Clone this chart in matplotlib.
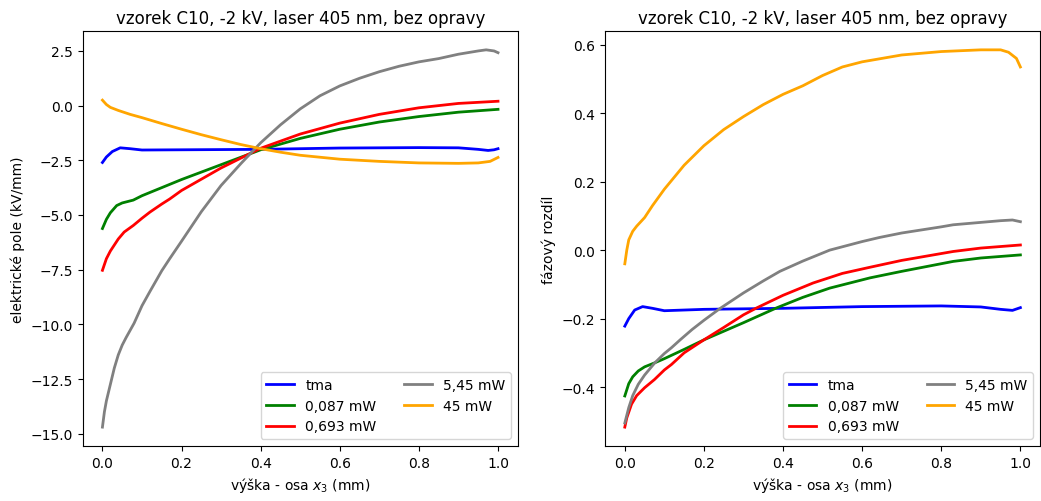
import matplotlib
matplotlib.use("Agg")
import matplotlib.pyplot as plt

# ---- data: left panel (electric field, kV/mm) ----
labels = ["tma", "0,087 mW", "0,693 mW", "5,45 mW", "45 mW"]
colors = ["blue", "green", "red", "gray", "orange"]

e_tma_x = [0, 0.01, 0.025, 0.045, 0.07, 0.1, 0.2, 0.4, 0.6, 0.8, 0.9, 0.95, 0.975, 0.99, 1.0]
e_tma_y = [-2.6, -2.35, -2.1, -1.93, -1.97, -2.03, -2.02, -2.0, -1.94, -1.92, -1.93, -2.0, -2.05, -2.02, -1.97]

e_g_x = [0, 0.01, 0.02, 0.036, 0.05, 0.078, 0.1, 0.15, 0.2, 0.3, 0.4, 0.5, 0.6, 0.7, 0.8, 0.9, 1.0]
e_g_y = [-5.62, -5.2, -4.9, -4.57, -4.45, -4.32, -4.12, -3.75, -3.38, -2.7, -2.02, -1.5, -1.08, -0.75, -0.5, -0.3, -0.17]

e_r_x = [0, 0.01, 0.02, 0.04, 0.055, 0.078, 0.1, 0.12, 0.15, 0.17, 0.2, 0.3, 0.4, 0.5, 0.6, 0.7, 0.8, 0.9, 1.0]
e_r_y = [-7.53, -7.0, -6.65, -6.1, -5.78, -5.48, -5.15, -4.87, -4.5, -4.27, -3.88, -2.85, -1.95, -1.3, -0.8, -0.4, -0.1, 0.1, 0.2]

e_gr_x = [0, 0.005, 0.01, 0.02, 0.03, 0.04, 0.05, 0.06, 0.08, 0.1, 0.12, 0.15, 0.17, 0.2, 0.25, 0.3, 0.35, 0.4, 0.45,
          0.5, 0.55, 0.6, 0.65, 0.7, 0.75, 0.8, 0.85, 0.9, 0.95, 0.97, 0.99, 1.0]
e_gr_y = [-14.7, -14.0, -13.5, -12.75, -12.0, -11.4, -10.95, -10.6, -9.95, -9.15, -8.5, -7.55, -7.0, -6.2, -4.85,
          -3.65, -2.65, -1.7, -0.88, -0.15, 0.45, 0.9, 1.25, 1.55, 1.8, 2.0, 2.15, 2.35, 2.5, 2.55, 2.5, 2.42]

e_o_x = [0, 0.01, 0.02, 0.04, 0.07, 0.1, 0.15, 0.2, 0.25, 0.3, 0.35, 0.4, 0.45, 0.5, 0.6, 0.7, 0.8, 0.9, 0.95, 0.98, 1.0]
e_o_y = [0.25, 0.05, -0.08, -0.22, -0.4, -0.55, -0.82, -1.08, -1.33, -1.56, -1.78, -1.97, -2.13, -2.27, -2.45,
         -2.55, -2.62, -2.64, -2.62, -2.55, -2.37]

# ---- data: right panel (phase difference) ----
p_tma_x = [0, 0.01, 0.025, 0.045, 0.07, 0.1, 0.2, 0.4, 0.6, 0.8, 0.9, 0.95, 0.98, 1.0]
p_tma_y = [-0.222, -0.2, -0.175, -0.165, -0.17, -0.177, -0.173, -0.17, -0.165, -0.163, -0.166, -0.173, -0.176, -0.168]

p_g_x = [0, 0.01, 0.02, 0.034, 0.05, 0.076, 0.1, 0.15, 0.202, 0.3, 0.383, 0.45, 0.518, 0.62, 0.7, 0.83, 0.9, 1.0]
p_g_y = [-0.426, -0.39, -0.37, -0.353, -0.341, -0.329, -0.317, -0.29, -0.261, -0.212, -0.169, -0.138, -0.111,
         -0.081, -0.062, -0.033, -0.023, -0.014]

p_r_x = [0, 0.005, 0.017, 0.03, 0.05, 0.075, 0.1, 0.118, 0.15, 0.2, 0.25, 0.3, 0.333, 0.4, 0.476, 0.55, 0.62,
         0.7, 0.83, 0.9, 1.0]
p_r_y = [-0.517, -0.49, -0.45, -0.425, -0.402, -0.378, -0.35, -0.334, -0.3, -0.262, -0.226, -0.189, -0.169,
         -0.132, -0.096, -0.068, -0.05, -0.03, -0.004, 0.006, 0.015]

p_gr_x = [0, 0.01, 0.02, 0.034, 0.05, 0.076, 0.1, 0.118, 0.14, 0.17, 0.2, 0.24, 0.3, 0.35, 0.392, 0.45, 0.518,
          0.6, 0.644, 0.7, 0.8, 0.83, 0.9, 0.95, 0.98, 1.0]
p_gr_y = [-0.505, -0.46, -0.425, -0.392, -0.365, -0.329, -0.302, -0.285, -0.262, -0.232, -0.205, -0.171,
          -0.125, -0.09, -0.062, -0.032, 0.0, 0.025, 0.037, 0.05, 0.068, 0.074, 0.081, 0.086, 0.088, 0.083]

p_o_x = [0, 0.005, 0.01, 0.02, 0.03, 0.05, 0.07, 0.1, 0.15, 0.2, 0.25, 0.3, 0.35, 0.4, 0.45, 0.5, 0.55, 0.6,
         0.7, 0.8, 0.9, 0.95, 0.97, 0.99, 1.0]
p_o_y = [-0.04, 0.0, 0.03, 0.055, 0.07, 0.095, 0.13, 0.178, 0.248, 0.305, 0.352, 0.39, 0.425, 0.455, 0.48, 0.51,
         0.535, 0.55, 0.57, 0.58, 0.585, 0.585, 0.578, 0.56, 0.535]

title = "vzorek C10, -2 kV, laser 405 nm, bez opravy"
xlabel = "výška - osa $x_3$ (mm)"

fig = plt.figure(figsize=(10.41, 5.02), dpi=100)
ax1 = fig.add_axes([0.0794, 0.1096, 0.418, 0.8267])
ax2 = fig.add_axes([0.5812, 0.1096, 0.418, 0.8267])

left = [(e_tma_x, e_tma_y), (e_g_x, e_g_y), (e_r_x, e_r_y), (e_gr_x, e_gr_y), (e_o_x, e_o_y)]
right = [(p_tma_x, p_tma_y), (p_g_x, p_g_y), (p_r_x, p_r_y), (p_gr_x, p_gr_y), (p_o_x, p_o_y)]

for (x, y), lab, c in zip(left, labels, colors):
    ax1.plot(x, y, color=c, lw=2, label=lab)
for (x, y), lab, c in zip(right, labels, colors):
    ax2.plot(x, y, color=c, lw=2, label=lab)

ax1.set_title(title, fontsize=12)
ax2.set_title(title, fontsize=12)
ax1.set_xlabel(xlabel)
ax2.set_xlabel(xlabel)
ax1.set_ylabel("elektrické pole (kV/mm)")
ax2.set_ylabel("fázový rozdíl")
ax1.legend(loc="lower right", ncol=2)
ax2.legend(loc="lower right", ncol=2)

fig.savefig("out.png", dpi=100)
